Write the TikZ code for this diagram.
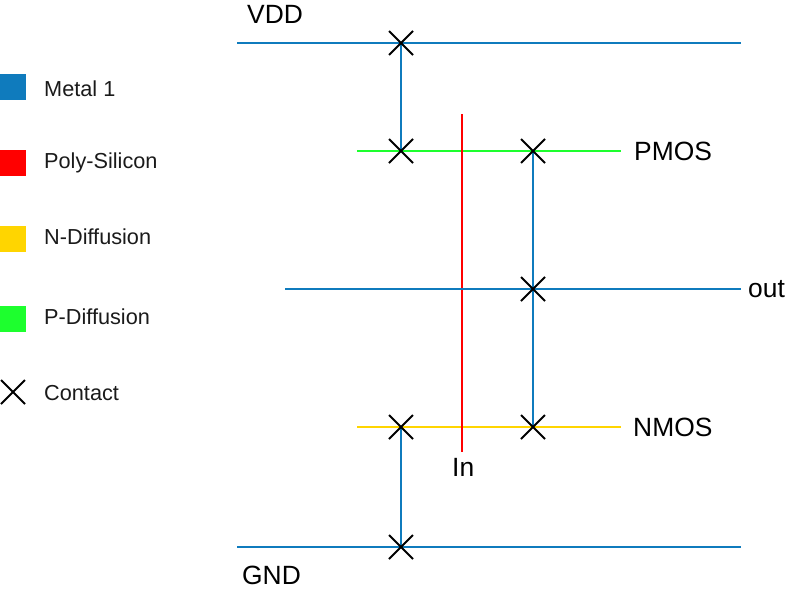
\documentclass[tikz,border=0pt]{standalone}
\usepackage{fontspec}
\setmainfont{Liberation Sans}
\usetikzlibrary{shapes.misc,backgrounds}
\definecolor{metal}{HTML}{0F7BBD}
\definecolor{poly}{HTML}{FF0000}
\definecolor{ndiff}{HTML}{FFD500}
\definecolor{pdiff}{HTML}{1DFF2E}
\definecolor{txt}{HTML}{1A1A1A}
\tikzset{
  wire/.style={line width=2pt},
  metalwire/.style={wire,draw=metal},
  polywire/.style={wire,draw=poly},
  nwire/.style={wire,draw=ndiff},
  pwire/.style={wire,draw=pdiff},
  contact/.style={cross out,draw=black,line width=2pt,minimum size=24pt,inner sep=0pt,outer sep=0pt},
  swatch/.style={minimum width=26pt,minimum height=26pt,inner sep=0pt,outer sep=0pt,anchor=north west},
  legendtext/.style={anchor=base west,inner sep=0pt,text=txt,font=\fontsize{21.7pt}{25pt}\selectfont},
  label/.style={anchor=west,inner sep=0pt,text=black,font=\fontsize{26.4pt}{31pt}\selectfont}
}
\begin{document}
\begin{tikzpicture}[x=1pt,y=-1pt]
\useasboundingbox (0,0) rectangle (788,592);
\coordinate (vddL) at (237,43); \coordinate (vddR) at (741,43);
\coordinate (gndL) at (237,547); \coordinate (gndR) at (741,547);
\coordinate (outL) at (285,289); \coordinate (outR) at (741,289);
\coordinate (pL) at (357,151); \coordinate (pR) at (621,151);
\coordinate (nL) at (357,427); \coordinate (nR) at (621,427);
\coordinate (polyT) at (462,114); \coordinate (polyB) at (462,452);
% contacts
\node[contact] (c1) at (401,43) {};
\node[contact] (c2) at (401,151) {};
\node[contact] (c3) at (533,151) {};
\node[contact] (c4) at (533,289) {};
\node[contact] (c5) at (533,427) {};
\node[contact] (c6) at (401,427) {};
\node[contact] (c7) at (401,547) {};
% wires, behind the contacts
\begin{scope}[on background layer]
\draw[metalwire] (c1.center) -- (c2.center);
\draw[pwire] (pL) -- (pR);
\draw[nwire] (nL) -- (nR);
\draw[polywire] (polyT) -- (polyB);
\draw[metalwire] (vddL) -- (vddR);
\draw[metalwire] (gndL) -- (gndR);
\draw[metalwire] (outL) -- (outR);
\draw[metalwire] (c3.center) -- (c5.center);
\draw[metalwire] (c6.center) -- (c7.center);
\end{scope}
% labels
\node[label] (vdd) at (247,14) {VDD};
\node[label] (gnd) at (242,575) {GND};
\node[label] (pmos) at (634,151) {PMOS};
\node[label] (nmos) at (633,427) {NMOS};
\node[label] (out) at (748,289) {out};
\node[label] (in) at (452,467) {In};
% legend
\node[swatch,fill=metal] (s1) at (0,74) {};
\node[swatch,fill=poly] (s2) at (0,150) {};
\node[swatch,fill=ndiff] (s3) at (0,226) {};
\node[swatch,fill=pdiff] (s4) at (0,306) {};
\node[contact] (s5) at (13,392) {};
\node[legendtext] (t1) at (44,96) {Metal 1};
\node[legendtext] (t2) at (44,168) {Poly-Silicon};
\node[legendtext] (t3) at (44,244) {N-Diffusion};
\node[legendtext] (t4) at (44,324) {P-Diffusion};
\node[legendtext] (t5) at (44,400) {Contact};
\end{tikzpicture}
\end{document}
